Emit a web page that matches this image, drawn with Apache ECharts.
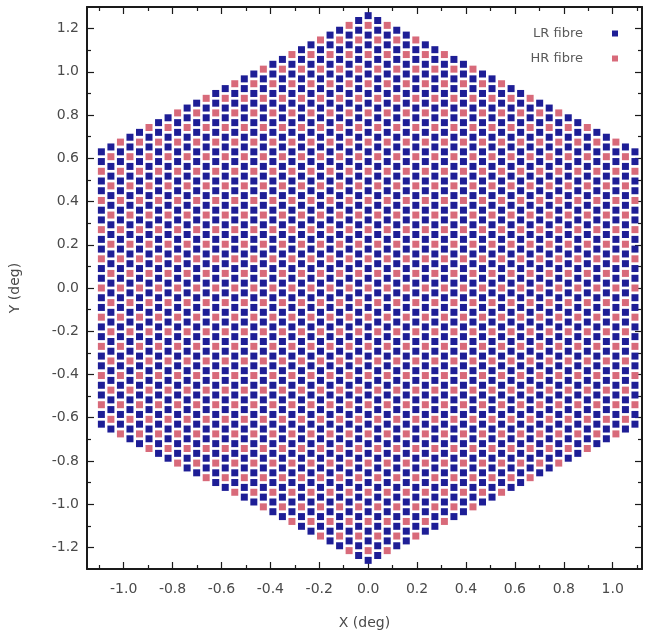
<!DOCTYPE html>
<html>
<head>
<meta charset="utf-8">
<script src="https://cdn.jsdelivr.net/npm/echarts@6/dist/echarts.min.js"></script>
<style>
  html, body { margin: 0; padding: 0; background: #ffffff; }
  #chart { width: 647px; height: 640px; }
</style>
</head>
<body>
<div id="chart"></div>
<script>
// Fibre map of the hexagonal focal plane. One string per lattice column, from the
// centre column (X = 0) outwards; the layout is mirror-symmetric about X = 0.
// Each letter is one positioner, read bottom to top:
//   L = low-resolution fibre, H = high-resolution fibre.
// Spaces and bars only group the letters for readability.
const fibreColumns = [
  "LHL LHL LHL LHL LHL | LHL LHL LHL LHL LHL | LHL LHL LHL LHL LHL | LHL LHL LHL LHL",
  "LLH LLH LLH LLH LLH | LLH LLH LLH LLH LLH | LLH LLH LLH LLH LLH | LLH LLH LLH LL",
  "HLL HLL HLL HLL HLL | HLL HLL HLL HLL HLL | HLL HLL HLL HLL HLL | HLL HLL HLL H",
  "LHL LHL LHL LHL LHL | LHL LHL LHL LHL LHL | LHL LHL LHL LHL LHL | LHL LHL LHL",
  "LLH LLH LLH LLH LLH | LLH LLH LLH LLH LLH | LLH LLH LLH LLH LLH | LLH LLH LL",
  "HLL HLL HLL HLL HLL | HLL HLL HLL HLL HLL | HLL HLL HLL HLL HLL | HLL HLL H",
  "LHL LHL LHL LHL LHL | LHL LHL LHL LHL LHL | LHL LHL LHL LHL LHL | LHL LHL",
  "LLH LLH LLH LLH LLH | LLH LLH LLH LLH LLH | LLH LLH LLH LLH LLH | LLH LL",
  "HLL HLL HLL HLL HLL | HLL HLL HLL HLL HLL | HLL HLL HLL HLL HLL | HLL H",
  "LHL LHL LHL LHL LHL | LHL LHL LHL LHL LHL | LHL LHL LHL LHL LHL | LHL",
  "LLH LLH LLH LLH LLH | LLH LLH LLH LLH LLH | LLH LLH LLH LLH LLH | LL",
  "HLL HLL HLL HLL HLL | HLL HLL HLL HLL HLL | HLL HLL HLL HLL HLL | H",
  "LHL LHL LHL LHL LHL | LHL LHL LHL LHL LHL | LHL LHL LHL LHL LHL",
  "LLH LLH LLH LLH LLH | LLH LLH LLH LLH LLH | LLH LLH LLH LLH LL",
  "HLL HLL HLL HLL HLL | HLL HLL HLL HLL HLL | HLL HLL HLL HLL H",
  "LHL LHL LHL LHL LHL | LHL LHL LHL LHL LHL | LHL LHL LHL LHL",
  "LLH LLH LLH LLH LLH | LLH LLH LLH LLH LLH | LLH LLH LLH LL",
  "HLL HLL HLL HLL HLL | HLL HLL HLL HLL HLL | HLL HLL HLL H",
  "LHL LHL LHL LHL LHL | LHL LHL LHL LHL LHL | LHL LHL LHL",
  "LLH LLH LLH LLH LLH | LLH LLH LLH LLH LLH | LLH LLH LL",
  "HLL HLL HLL HLL HLL | HLL HLL HLL HLL HLL | HLL HLL H",
  "LHL LHL LHL LHL LHL | LHL LHL LHL LHL LHL | LHL LHL",
  "LLH LLH LLH LLH LLH | LLH LLH LLH LLH LLH | LLH LL",
  "HLL HLL HLL HLL HLL | HLL HLL HLL HLL HLL | HLL H",
  "LHL LHL LHL LHL LHL | LHL LHL LHL LHL LHL | LHL",
  "LLH LLH LLH LLH LLH | LLH LLH LLH LLH LLH | LL",
  "HLL HLL HLL HLL HLL | HLL HLL HLL HLL HLL | H",
  "LHL LHL LHL LHL LHL | LHL LHL LHL LHL LHL",
  "LLH LLH LLH LLH LLH | LLH LLH LLH LLH LL"
];

// Centre-to-centre distance between neighbouring positioners (deg).
const latticePitch = 0.045;

const seriesNames = ["LR fibre", "HR fibre"];
const fibreCodes  = ["L", "H"];

const xRange = [-1.15, 1.12];
const yRange = [-1.3, 1.3];
const xMajorTicks = [-1.0, -0.8, -0.6, -0.4, -0.2, 0.0, 0.2, 0.4, 0.6, 0.8, 1.0];
const xMinorTicks = [-1.1, -0.9, -0.7, -0.5, -0.3, -0.1, 0.1, 0.3, 0.5, 0.7, 0.9, 1.1];
const yMajorTicks = [-1.2, -1.0, -0.8, -0.6, -0.4, -0.2, 0.0, 0.2, 0.4, 0.6, 0.8, 1.0, 1.2];
const yMinorTicks = [-1.1, -0.9, -0.7, -0.5, -0.3, -0.1, 0.1, 0.3, 0.5, 0.7, 0.9, 1.1];

// Expand the column strings into (X, Y) positions on the hexagonal lattice:
// columns sit pitch*sqrt(3)/2 apart, positioners in a column sit one pitch apart,
// and every column is centred on Y = 0.
const points = { L: [], H: [] };
const columnStep = latticePitch * Math.sqrt(3) / 2;
const last = fibreColumns.length - 1;
for (let c = -last; c <= last; c++) {
  const column = fibreColumns[Math.abs(c)].replace(/[ |]/g, "");
  const n = column.length;
  for (let i = 0; i < n; i++) {
    const x = c * columnStep;
    const y = (i - (n - 1) / 2) * latticePitch;
    points[column[i]].push([x, y]);
  }
}

const FONT = "'DejaVu Sans', Verdana, sans-serif";
const INK = "#1a1a1a";
const TEXT = "#4a4a4a";
const fmt = v => v.toFixed(1);

function xAxisDef(position, ticks, length, withLabels, showLine) {
  return {
    type: "value", position: position, min: xRange[0], max: xRange[1],
    splitLine: { show: false },
    axisLine: { show: showLine, onZero: false, lineStyle: { color: INK, width: 2 } },
    axisTick: { show: true, inside: true, length: length, customValues: ticks,
                lineStyle: { color: INK, width: 1.2 } },
    axisLabel: withLabels
      ? { show: true, customValues: ticks, formatter: fmt, margin: 13,
          fontFamily: FONT, fontSize: 14, color: TEXT }
      : { show: false },
    name: withLabels ? "X (deg)" : "",
    nameLocation: "middle", nameGap: 47,
    nameTextStyle: { fontFamily: FONT, fontSize: 14, color: TEXT }
  };
}
function yAxisDef(position, ticks, length, withLabels, showLine) {
  return {
    type: "value", position: position, min: yRange[0], max: yRange[1],
    splitLine: { show: false },
    axisLine: { show: showLine, onZero: false, lineStyle: { color: INK, width: 2 } },
    axisTick: { show: true, inside: true, length: length, customValues: ticks,
                lineStyle: { color: INK, width: 1.2 } },
    axisLabel: withLabels
      ? { show: true, customValues: ticks, formatter: fmt, margin: 8,
          fontFamily: FONT, fontSize: 14, color: TEXT }
      : { show: false },
    name: withLabels ? "Y (deg)" : "",
    nameLocation: "middle", nameGap: 65,
    nameTextStyle: { fontFamily: FONT, fontSize: 14, color: TEXT }
  };
}

const colors = { L: "#1e1e96", H: "#d86a7a" };

const option = {
  animation: false,
  backgroundColor: "#ffffff",
  grid: { left: 87, right: 5, top: 7, bottom: 71, containLabel: false },
  xAxis: [
    xAxisDef("bottom", xMajorTicks, 7, true, true),
    xAxisDef("bottom", xMinorTicks, 4, false, false),
    xAxisDef("top", xMajorTicks, 7, false, true),
    xAxisDef("top", xMinorTicks, 4, false, false)
  ],
  yAxis: [
    yAxisDef("left", yMajorTicks, 7, true, true),
    yAxisDef("left", yMinorTicks, 4, false, false),
    yAxisDef("right", yMajorTicks, 7, false, true),
    yAxisDef("right", yMinorTicks, 4, false, false)
  ],
  legend: {
    data: seriesNames,
    orient: "vertical",
    right: 24, top: 22,
    align: "right",
    icon: "rect",
    itemWidth: 6, itemHeight: 6, itemGap: 12,
    textStyle: { fontFamily: FONT, fontSize: 13, color: "#5a5a5a", padding: [0, 24, 0, 0] }
  },
  series: seriesNames.map((name, k) => ({
    name: name,
    type: "scatter",
    xAxisIndex: 0, yAxisIndex: 0,
    symbol: "rect",
    symbolSize: 7,
    silent: true,
    itemStyle: { color: colors[fibreCodes[k]], opacity: 1 },
    data: points[fibreCodes[k]]
  }))
};

const chart = echarts.init(document.getElementById("chart"), null, { renderer: "canvas" });
chart.setOption(option);
</script>
</body>
</html>
